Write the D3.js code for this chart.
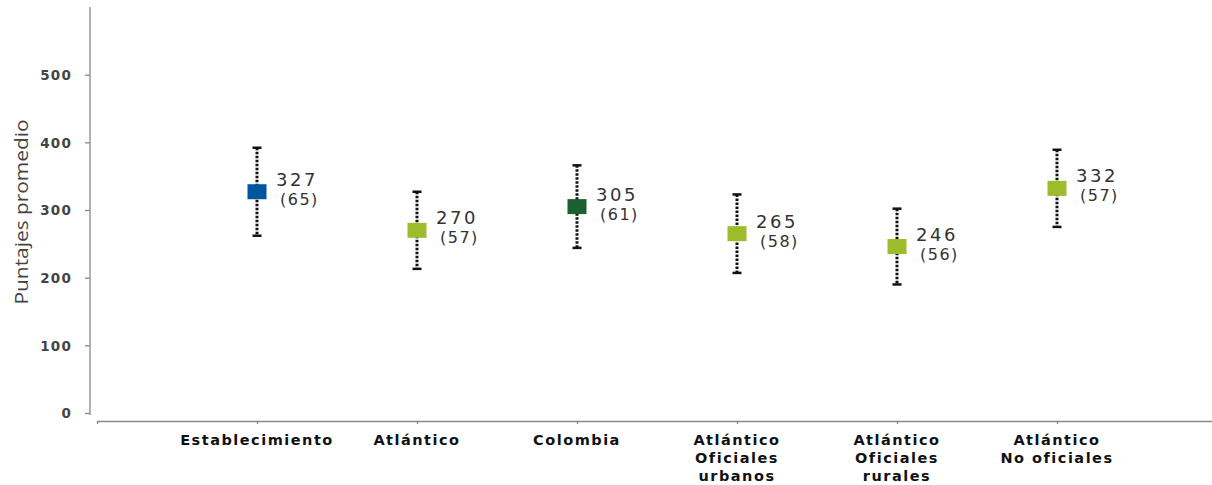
<!DOCTYPE html>
<html><head><meta charset="utf-8">
<script src="https://cdn.jsdelivr.net/npm/d3@7"></script>
<style>
html,body{margin:0;padding:0;background:#fff;}
svg{display:block;}
</style></head>
<body>
<svg id="chart" width="1212" height="485"></svg>
<script>
const categories = [
  ["Establecimiento"],
  ["Atlántico"],
  ["Colombia"],
  ["Atlántico","Oficiales","urbanos"],
  ["Atlántico","Oficiales","rurales"],
  ["Atlántico","No oficiales"]
];
const means = [327, 270, 305, 265, 246, 332];
const sds = [65, 57, 61, 58, 56, 57];
const colors = ["#00559F", "#9DBB2A", "#1C5F31", "#9DBB2A", "#9DBB2A", "#9DBB2A"];
const yTicks = [0, 100, 200, 300, 400, 500];
const yTitle = "Puntajes promedio";

const svg = d3.select("#chart");
const keys = categories.map(c => c.join(" "));
const x = d3.scalePoint().domain(keys).range([97, 1217]).padding(1);
const y = d3.scaleLinear().domain([0, 600]).range([413, 7]);

// Y axis
const yAxis = svg.append("g").attr("transform", "translate(90,0)")
  .call(d3.axisLeft(y).tickValues(yTicks).tickSize(5).tickSizeOuter(0).tickPadding(13));
yAxis.select(".domain").attr("stroke", "#888").attr("stroke-width", 1.3).attr("d", "M0,7V415");
yAxis.selectAll(".tick line").attr("stroke", "#888").attr("stroke-width", 1.3);
yAxis.selectAll(".tick text").attr("font-family", "DejaVu Sans").attr("font-weight", "bold")
  .attr("font-size", 13.5).attr("fill", "#444").attr("letter-spacing", 1.2).attr("dy", "0.36em");

// Y title
svg.append("text").attr("transform", "translate(28,212) rotate(-90)")
  .attr("text-anchor", "middle").attr("font-family", "Open Sans").attr("font-size", 19)
  .attr("fill", "#444").attr("textLength", 185).attr("lengthAdjust", "spacingAndGlyphs")
  .text(yTitle);

// X axis
const xAxis = svg.append("g").attr("transform", "translate(0,421)")
  .call(d3.axisBottom(x).tickSize(3).tickSizeOuter(3).tickFormat(""));
xAxis.select(".domain").attr("stroke", "#888").attr("stroke-width", 1.3);
xAxis.selectAll(".tick line").attr("stroke", "#888").attr("stroke-width", 1.3);

// Category labels
categories.forEach((lines, i) => {
  const t = svg.append("text").attr("x", x(keys[i])).attr("y", 445)
    .attr("text-anchor", "middle").attr("font-family", "DejaVu Sans").attr("font-weight", "bold")
    .attr("font-size", 14.5).attr("letter-spacing", 1.5).attr("fill", "#111");
  lines.forEach((l, j) => t.append("tspan").attr("x", x(keys[i])).attr("dy", j === 0 ? 0 : 18).text(l));
});

// Error bars
const g = svg.append("g");
means.forEach((m, i) => {
  const cx = x(keys[i]);
  const top = y(m + sds[i]), bot = y(m - sds[i]);
  g.append("line").attr("x1", cx).attr("x2", cx).attr("y1", top).attr("y2", bot)
    .attr("stroke", "#111").attr("stroke-width", 3).attr("stroke-dasharray", "2.5,1.5");
  [top, bot].forEach(v => g.append("line").attr("x1", cx - 4.5).attr("x2", cx + 4.5)
    .attr("y1", v).attr("y2", v).attr("stroke", "#111").attr("stroke-width", 2.5));
  g.append("rect").attr("x", cx - 9.5).attr("y", y(m) - 7.5).attr("width", 19).attr("height", 15)
    .attr("fill", colors[i]);
  g.append("text").attr("x", cx + 19).attr("y", y(m) - 6)
    .attr("font-family", "DejaVu Sans").attr("font-size", 18).attr("letter-spacing", 2.5)
    .attr("fill", "#333").text(m);
  g.append("text").attr("x", cx + 23).attr("y", y(m) + 13)
    .attr("font-family", "DejaVu Sans").attr("font-size", 16).attr("letter-spacing", 1.5)
    .attr("fill", "#333").text("(" + sds[i] + ")");
});
</script>
</body></html>
